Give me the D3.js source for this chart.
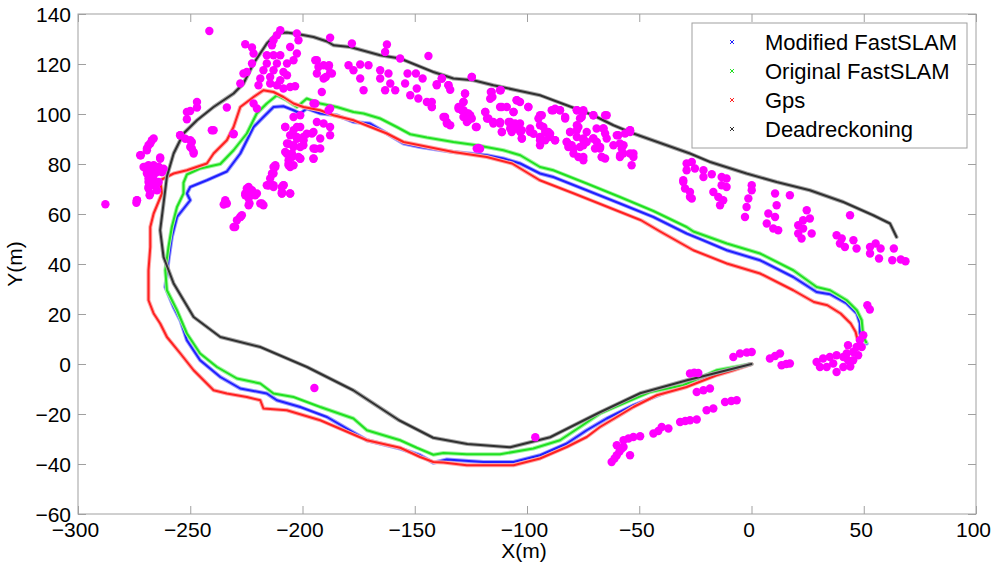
<!DOCTYPE html>
<html>
<head>
<meta charset="utf-8">
<script src="https://cdn.jsdelivr.net/npm/d3@7"></script>
<style>
  html, body { margin: 0; padding: 0; background: #fff; }
  svg { display: block; font-family: "Liberation Sans", Arial, sans-serif; }
</style>
</head>
<body>
<svg id="chart" width="1000" height="576"></svg>
<script>
// ---------- DATA (x in m, y in m) ----------
const xTicks = [-300, -250, -200, -150, -100, -50, 0, 50, 100];
const yTicks = [-60, -40, -20, 0, 20, 40, 60, 80, 100, 120, 140];
const legendLabels = ["Modified FastSLAM", "Original FastSLAM", "Gps", "Deadreckoning"];
const seriesColors = ["#2020ff", "#20e020", "#ff2020", "#303030"];

const modifiedFastSLAM = [
  [0,0],[-8.1,-1.8],[-22.9,-6.5],[-37.8,-11.2],[-52.6,-16.5],[-64.5,-21.8],[-73.4,-26.5],[-82.3,-31.8],
  [-94.2,-36.5],[-106,-39.2],[-119.4,-39.2],[-135.7,-38.2],[-141.7,-39.5],[-147.6,-36.5],[-156.5,-33.8],
  [-171.3,-30.5],[-189.1,-21.2],[-201,-17.2],[-211.4,-14.5],[-215.9,-11.8],[-227.7,-9.8],[-236.6,-5.2],
  [-245.6,1.5],[-251.5,9.5],[-254.4,17.5],[-257.4,22.8],[-261.1,30.8],[-259.7,41.5],[-258.2,50.8],
  [-255.9,58.8],[-250,65.5],[-251.5,68.2],[-250,70.8],[-242.6,73.5],[-233.7,77],[-227.7,84.2],
  [-221.8,94.8],[-217.4,98.8],[-212.9,102.8],[-208.5,103.1],[-204,101.5],[-201,100.2],[-198.1,102.2],
  [-192.1,100.2],[-184.7,99.5],[-177.3,96.8],[-169.9,96.2],[-162.4,92.2],[-155,88.2],[-147.6,86.8],
  [-132.8,84.8],[-117.9,83.5],[-110.5,82.2],[-103,80.2],[-94.2,76.2],[-88.3,74.8],[-73.4,69.5],
  [-58.6,64.2],[-43.7,58.8],[-28.9,52.2],[-22.9,50],[-11,45.5],[3.8,41.5],[18.6,34.8],[29,28.8],
  [35,27.9],[42.4,24.2],[46.9,20.2],[48.3,16.2],[48.3,12.2],[51.3,8.2]
];

const originalFastSLAM = [
  [0,0],[-15.5,-2.5],[-30.4,-8.5],[-45.2,-11.2],[-55.6,-15.2],[-67.5,-19.8],[-76.4,-25.2],[-85.3,-30.5],
  [-97.2,-33.8],[-112,-36.1],[-126.8,-36.1],[-137.2,-35.6],[-141.7,-36.3],[-149.1,-33.5],[-156.5,-30.5],
  [-171.3,-26.5],[-177.3,-21.8],[-192.1,-17.2],[-204,-13.2],[-212.9,-11.8],[-218.8,-7.8],[-229.2,-5.8],
  [-238.1,-1.2],[-245.6,4.2],[-251.5,12.2],[-255.9,21.5],[-260.4,29.5],[-261.1,37.5],[-259.7,46.8],
  [-258.2,54.8],[-255.9,62.8],[-253,68.2],[-253,72.5],[-251.5,75.8],[-245.6,78.2],[-236.6,80],
  [-230.7,85.5],[-224.8,92.2],[-220.4,100.2],[-215.9,104.2],[-211.4,107.5],[-207,105.5],[-202.5,102.8],
  [-198.1,106.2],[-192.1,104.2],[-184.7,102.8],[-177.3,100.8],[-172.8,100.2],[-165.4,98.2],[-158,94.8],
  [-152,91.9],[-144.6,90.6],[-132.8,88.8],[-122.4,87.5],[-110.5,85.5],[-103,83.5],[-94.2,78.8],
  [-88.3,77.5],[-73.4,72.2],[-58.6,66.8],[-43.7,61.2],[-28.9,54.8],[-25.9,53],[-11,48.2],[3.8,44.2],
  [18.6,37.5],[29,30.8],[35,29.5],[42.4,25.5],[46.9,21.5],[49.1,17.5],[49.8,10.8],[51.1,8.7]
];

const gps = [
  [0,0],[-8.1,-2.5],[-15.5,-4.5],[-28.9,-9.2],[-42.2,-12.5],[-52.6,-17.2],[-60,-21.2],[-67.5,-25.2],
  [-73.4,-29.2],[-82.3,-33.2],[-94.2,-37.8],[-106,-40.5],[-126.8,-40.5],[-137.2,-39.4],[-141.7,-39.2],
  [-147.6,-37.2],[-156.5,-33.5],[-171.3,-30.5],[-192.1,-22.5],[-207,-18.5],[-217.4,-17.8],[-218.8,-14.5],
  [-224.8,-13.2],[-233.7,-11.8],[-239.6,-10.5],[-248.5,-2.5],[-254.4,4.2],[-260.4,10.8],[-263.4,16.2],
  [-266.3,20.2],[-268.6,25.5],[-268.6,37.5],[-267.8,46.8],[-267.8,54.8],[-266.3,60.2],[-262.6,68.2],
  [-263.4,73.5],[-257.4,76.2],[-251.5,77.5],[-242.6,80.2],[-239.6,84.2],[-233.7,89.5],[-230.7,94.8],
  [-227.7,102.8],[-221.8,106.8],[-217.4,109.5],[-212.9,108.8],[-208.5,106.8],[-204,104.2],[-199.6,102.8],
  [-192.1,101.5],[-186.2,99.5],[-177.3,97.5],[-162.4,92.2],[-155,88.8],[-132.8,84.8],[-117.9,82.8],
  [-106.6,80.2],[-94.3,73.5],[-79.1,68.2],[-64,62.8],[-49.2,57.5],[-40.7,53],[-25.9,45.5],[-11,40.2],
  [3.8,36.2],[18.6,29.5],[27.8,24.8],[33.8,23.5],[39.7,20.2],[44.2,16.2],[46.4,12.8],[47.1,10.2]
];

const deadReckoning = [
  [0,0],[-28.7,-6.5],[-49.6,-11.7],[-67.5,-19.3],[-76.4,-23.3],[-89.7,-29.3],[-107.5,-33.3],[-126.6,-32],
  [-141.8,-29.5],[-157,-22.5],[-177.4,-10.5],[-198,-1.2],[-218.8,6.8],[-236.6,10.8],[-248.5,18.8],
  [-257.4,32.2],[-261.9,42.8],[-263.4,53.5],[-261.9,64.2],[-260.4,75],[-257.4,84.2],[-253,92.2],
  [-247,97.5],[-239.6,102.8],[-230.7,108.2],[-226.3,112.2],[-221.8,120.2],[-215.9,128.2],[-211.4,132.2],
  [-207,132.6],[-201,131.8],[-195.1,130.8],[-189,129],[-186.2,127.5],[-178.8,126.8],[-165.4,123.5],
  [-156.5,122.2],[-141.7,116.8],[-132.8,114.2],[-123.9,113.5],[-115,111.5],[-104.6,109.5],[-94.2,107.5],
  [-82.3,103.5],[-70.5,99.5],[-61.5,95.5],[-52.6,92.2],[-37.8,87.5],[-27.4,84.2],[-18.4,80.8],
  [-2.2,76.2],[11.2,72.8],[26,69.5],[40.9,64.8],[54.2,59.5],[61.7,56.2],[64.6,50.8]
];

const landmarks = [
  [-241.5,133.2],[-225.5,127.9],[-222.5,126.6],[-221.8,124.2],[-222.5,120.2],[-224.8,116.8],[-226.3,116.2],[-227.7,112.2],
  [-209.9,133.5],[-211.4,131.5],[-212.9,129.5],[-213.6,127.5],[-202.5,132.2],[-201.8,129.5],[-205.5,126.8],[-202.5,124.2],
  [-204,121.5],[-215.9,123.5],[-212.9,123.5],[-209.9,123.5],[-215.9,120.2],[-211.4,120.2],[-206.9,120.2],[-217.4,117.5],
  [-212.9,117.5],[-208.5,116.8],[-218.8,114.2],[-214.4,114.8],[-209.9,113.5],[-219.6,111.5],[-214.4,112.2],[-211.4,111.5],
  [-208.5,110.2],[-205.5,110.8],[-203.3,111.1],[-206.9,115.5],
  [-187.7,130.5],[-193.6,121.5],[-190.6,119.5],[-188.2,119.5],[-193.6,116.2],[-189.6,114.8],[-187.7,116.4],[-191.4,108.8],
  [-247,104.8],[-251.5,100.8],[-250,101.2],[-247,102.6],[-251.5,97.9],[-233.7,102.6],[-239.6,93.5],[-230.7,91.9],
  [-254.5,91.5],[-250,89.5],[-249.3,86.2],[-248.5,84.2],
  [-266.3,90.2],[-267.8,88.2],[-269.3,86.2],[-272,83.5],[-263.4,82.6],[-270.1,78.8],[-267.1,78.8],[-264.1,78.8],
  [-262.6,76.8],[-269.3,76.2],[-266.3,75.5],[-268.6,72.8],[-264.8,72.2],[-268.6,70.2],[-268.1,67.5],[-273.7,65.5],
  [-274,64.5],[-287.8,63.9],
  [-267.1,89.5],[-268.6,87.5],[-269.3,85.5],[-272.3,83.5],[-263.4,82.1],[-270.8,78.8],[-268.6,79.5],[-266.3,79.5],
  [-264.1,78.8],[-261.9,78.1],[-269.3,76.8],[-267.1,76.2],[-264.8,76.8],[-262.6,76.8],[-268.6,74.2],[-266.3,73.5],
  [-264.1,72.8],[-268.6,70.8],[-266.3,71.5],[-264.8,69.5],[-267.8,68.2],[-273.8,65.5],
  [-254.5,91.5],[-249.3,88.8],[-250,86.8],[-248.5,84.8],[-252.2,90.1],[-240.4,93.5],[-230.7,92.1],
  [-234.4,64.8],[-235.1,63.8],[-227,59.5],[-227.7,58.8],[-230,54.8],[-224,70.8],[-225.5,68.2],[-221.8,68.2],[-223.6,64.2],
  [-218.1,64.2],[-220.3,68.2],[-215.1,71.5],[-212.9,70.8],[-209.2,70.8],[-209.2,68.2],[-205.5,68.2],[-212.9,76.2],
  [-212.1,79.5],[-206.2,79.5],
  [-212.9,78.8],[-213.6,76.2],[-214.4,74.2],[-215.1,71.5],[-212.9,71.5],[-208.4,71.5],[-209.2,68.8],[-205.5,68.2],
  [-224.8,70.2],[-222.5,69.5],[-225.5,67.5],[-223.3,67.5],[-221.1,67.5],[-224,66.2],[-224,63.5],[-218.8,64.2],
  [-217.4,63.5],[-234.4,65.5],[-233.7,64.2],[-227.7,58.8],[-229.2,57.5],[-230.7,54.8],
  [-220.3,102.2],[-221.8,104.2],[-207.7,94.8],[-204,98.8],[-201,99.5],[-202.5,94.8],[-205.5,91.5],[-202.5,90.8],
  [-199.6,90.8],[-206.9,88.2],[-204,87.5],[-199.6,87.5],[-195.8,92.2],[-192.1,90.2],[-207.7,84.8],[-204.7,84.2],
  [-201,82.2],[-206.2,81.5],[-205.5,78.8],[-195.1,86.2],[-192.1,86.2],[-195.1,82.2],[-193.6,96.8],[-190.6,96.2],
  [-187.7,94.8],[-187.7,91.5],[-194.3,104.2],[-187.7,102.2],[-212.1,78.8],[-213.2,76.2],[-213.6,71.5],[-208.5,71.5],
  [-209.2,68.2],[-215.9,71.5],[-195.1,104.2],[-188.4,101.5],
  [-207.7,94.8],[-204,93.5],[-201,94.8],[-198.1,92.1],[-202.5,90.1],[-199.5,89.5],[-206.2,88.1],[-204,86.8],
  [-201,86.8],[-207,84.1],[-204.7,82.8],[-201.8,82.8],[-206.2,80.1],[-204,79.5],[-201,82.1],[-195.1,92.8],
  [-194.3,86.1],[-195.1,82.1],
  [-178,128.2],[-162.4,127.8],[-163.2,124.8],[-143.9,123.2],[-156.5,122.2],[-194.3,121.5],[-192.9,118.8],[-188.4,118.8],
  [-190.6,114.2],[-186.9,116.2],[-179.5,119.5],[-174.3,119.8],[-170.6,119.5],[-177.3,117.5],[-174.3,114.2],[-172.8,109.5],
  [-165.4,117.5],[-161.7,116.2],[-165.4,114.2],[-160.9,112.2],[-163.2,109.5],[-158.7,109.5],[-153.2,116.2],[-149.5,116.2],
  [-146.5,114.2],[-154.3,112.2],[-149.1,110.2],[-152,107.5],[-148.4,106.2],[-144.6,104.8],[-142.4,102.8],[-140.2,111.5],
  [-138,114.2],[-135,111.5],[-124.6,114.8],[-127.6,108.2],[-128.3,104.8],[-130.5,102.8],[-128.3,101.5],[-126.1,100.2],
  [-126.8,96.8],[-124.6,98.2],[-136.5,98.8],[-135.7,96.2],[-122.8,94.8],[-116.1,108.8],[-111.7,109.5],[-115.4,106.8],
  [-118.6,100.8],[-117.8,98.2],[-115,96.2],[-112,96.8],[-111.2,92.8],[-112,102.8],[-106,100.8],[-104.6,105.5],
  [-99.4,102.8],[-108.2,96.8],[-106,94.2],[-103,92.8],[-102.3,90.2],[-98.6,92.8],[-94.2,99.5],[-94.2,95.5],
  [-91.2,92.8],[-88.3,101.5],[-85.3,101.5],[-83,98.8],[-94.2,89.5],[-89.8,90.8],[-87.5,89.5],[-77.8,101.5],
  [-74.9,100.8],[-70.5,99.5],[-65.2,99.5],[-76.4,98.2],[-77.8,95.5],[-73.4,92.8],[-80.8,92.8],[-82.3,88.8],
  [-80.1,87.5],[-74.9,90.2],[-70.5,90.2],[-69,94.2],[-66,94.2],[-64.5,90.2],[-67.5,86.2],[-61.5,87.5],
  [-57,87.5],[-54.1,92.8],[-60,91.5],[-58.5,83.5],[-52.6,84.2],[-74.9,82.8],[-66.7,82.8],[-122.4,86.2],
  [-121.6,86.4],[-54.1,93.5],
  [-140.2,111.9],[-137.9,114.2],[-135,111.5],[-134.2,109.7],[-142.4,104.8],[-142.4,102.8],[-127.6,108.1],[-128.3,104.8],
  [-130.5,102.1],[-129,101.5],[-126.8,100.2],[-125.3,99.5],[-128.3,98.8],[-126.1,97.5],[-137.2,98.8],[-135.7,96.8],
  [-134.2,95.5],[-122.4,94.8],[-124.6,114.8],[-115.7,108.8],[-112,109.5],[-116.4,106.1],[-118.6,100.8],[-117.2,98.2],
  [-115,96.8],[-112,96.2],[-111.2,92.8],[-111.2,102.8],[-109,102.8],[-106,100.8],[-104.6,105.5],[-103.1,104.8],
  [-99.4,102.8],[-107.5,96.8],[-105.3,96.2],[-103.1,96.2],[-107.5,94.2],[-104.6,94.2],[-106.8,92.8],[-102.3,93.5],
  [-98.6,94.2],[-102.3,90.2],[-97.1,92.1],[-94.2,90.8],[-91.9,89.5],[-94.2,87.5],[-93.4,89.5],[-92.7,94.8],
  [-91.9,92.8],[-90.5,92.8],[-94.9,98.2],[-93.4,99.5],[-89,101.5],[-87.5,102.1],[-85.3,101.5],[-83,98.2],
  [-89.7,92.1],[-87.5,89.5],[-82.3,88.8],[-81.6,86.8],[-80.8,87.5],[-79.3,86.2],[-77.8,101.5],[-74.9,101.5],
  [-75.6,98.8],[-80.8,92.8],[-77.8,93.5],[-77.1,94.8],[-70.4,99.5],[-64.5,99.5],[-77.8,90.8],[-74.9,89.5],
  [-76.4,86.8],[-73.4,88.8],[-79.3,84.2],[-77.1,82.8],[-74.9,81.5],[-70.4,90.2],[-68.9,88.8],[-65.9,94.2],
  [-65.2,92.2],[-69.7,86.2],[-67.4,86.8],[-66.7,82.8],[-65.2,82.2],[-59.3,91.5],[-56.3,92.2],[-54.1,93.5],
  [-58.6,88.2],[-57.8,86.2],[-57.1,84.2],[-58.6,82.8],[-54.1,84.2],[-52.6,82.8],[-53.4,79.5],[-74.9,87.5],
  [-120.9,86.1],
  [-28.9,80.2],[-30.4,73.5],[-27.4,66.8],[-26.6,80.8],[-28.9,77.5],[-25.2,78.2],[-21.4,77.5],[-21.4,74.8],
  [-17.7,75.9],[-30.4,72.8],[-29.6,70.2],[-27.4,68.8],[-26.6,66.2],[-13.3,74.8],[-11.1,74.2],[-13.3,71.5],
  [-11.1,70.8],[-17,68.8],[-14.8,66.8],[-12.6,65.5],[-14,63.5],[0.1,71.5],[0.1,69.5],[-1.4,66.2],
  [-2.2,62.8],[-2.9,58.8],[10.5,68.2],[17.1,67.5],[11.2,63.5],[7.5,60.2],[10.5,58.8],[6.8,56.2],
  [9.7,54.2],[11.9,53.5],[24.6,61.5],[26,58.2],[23,57.5],[20.8,55.5],[23,54.2],[20.8,52.2],
  [22.3,50.2],[26.8,52.2],[43.9,59.5],[37.9,51.5],[40.2,50.2],[39.4,48.2],[41.6,46.8],[45.4,49.5],
  [46.8,46.2],[52.8,46.8],[55.3,48.2],[57.5,46.2],[52.8,44.2],[56.8,42.2],[63.4,46.2],[62.7,41.5],
  [66.5,41.8],[68.6,41.1],[51.6,23.5],[52.7,21.8],
  [49.8,11.5],[48.3,9.5],[46.8,6.8],[43,7.5],[45.3,4.8],[42.4,4.2],[40.9,2.8],[45.3,1.5],[37.9,3.5],
  [34.9,2.8],[31.9,2.2],[29,0.8],[30.5,-1.2],[33.5,-1.2],[36.4,0.2],[37.9,-3.2],[40.9,-1.2],[43,1.5],
  [49.1,6.8],[47.5,3.5],[44,-1],
  [-8.1,2.8],[-5.1,4.2],[-2.1,4.6],[0.1,4.8],[8.2,2.2],[12.7,4.2],[13.4,-0.5],[17.1,0.2],[10.5,3.2],[15.5,0],
  [-27.4,-3.8],[-23.7,-3.6],[-25.5,-3.5],[-24.4,-11.2],[-21.4,-10.5],[-18.5,-9.8],[-20,-18.5],[-17,-17.8],
  [-11.8,-15.2],[-6.6,-14.5],[-9,-14.8],[-31.8,-23.2],[-27.4,-22.5],[-24.4,-22.2],[-29.5,-22.8],
  [-43.7,-27.8],[-40,-25.2],[-37,-25.8],[-41.5,-26.8],[-57,-30.5],[-52.6,-29.2],[-49.6,-28.9],[-54.8,-29.8],
  [-60,-32.5],[-57.8,-33.8],[-54.1,-36.5],[-60,-36.5],[-62.3,-39.2],[-57,-33.2],[-58.8,-35],[-61,-37.8],
  [-194.7,-9.6],[-96.3,-29.3]
];

// ---------- LAYOUT ----------
const svg = d3.select("#chart");
const plot = { left: 78, right: 976, top: 14, bottom: 514 };
const x = d3.scaleLinear().domain([-300, 100]).range([plot.left, plot.right]);
const y = d3.scaleLinear().domain([-60, 140]).range([plot.bottom, plot.top]);
const axisColor = "#a0a0a0";
const tickLen = 8;
const fontSize = 21;

svg.append("rect").attr("width", 1000).attr("height", 576).attr("fill", "#fff");

// Axes box
svg.append("rect")
  .attr("x", plot.left).attr("y", plot.top)
  .attr("width", plot.right - plot.left).attr("height", plot.bottom - plot.top)
  .attr("fill", "#fff").attr("stroke", axisColor).attr("stroke-width", 1);

// Ticks (inside, on all four sides) via d3 axes
const xb = svg.append("g").attr("transform", `translate(0,${plot.bottom})`)
  .call(d3.axisBottom(x).tickValues(xTicks).tickSize(-tickLen).tickPadding(8).tickFormat(d3.format("d")));
const xt = svg.append("g").attr("transform", `translate(0,${plot.top})`)
  .call(d3.axisTop(x).tickValues(xTicks).tickSize(-tickLen).tickFormat(""));
const yl = svg.append("g").attr("transform", `translate(${plot.left},0)`)
  .call(d3.axisLeft(y).tickValues(yTicks).tickSize(-tickLen).tickPadding(7).tickFormat(d3.format("d")));
const yr = svg.append("g").attr("transform", `translate(${plot.right},0)`)
  .call(d3.axisRight(y).tickValues(yTicks).tickSize(-tickLen).tickFormat(""));

[xb, xt, yl, yr].forEach(g => {
  g.select(".domain").remove();
  g.selectAll(".tick line").attr("stroke", axisColor);
  g.selectAll("text").attr("fill", "#000").attr("font-size", fontSize)
    .attr("font-family", "'Liberation Sans', Arial, sans-serif");
});
xb.selectAll("text").attr("dy", "0.71em").attr("dx", "-3");
yl.selectAll("text").attr("dy", "0.36em");

// Axis titles
svg.append("text").attr("x", (plot.left + plot.right) / 2 - 3).attr("y", 558)
  .attr("text-anchor", "middle").attr("font-size", fontSize).attr("fill", "#000").text("X(m)");
svg.append("text").attr("transform", `translate(22,${(plot.top + plot.bottom) / 2}) rotate(-90)`)
  .attr("text-anchor", "middle").attr("font-size", fontSize).attr("fill", "#000").text("Y(m)");

// ---------- SERIES ----------
const line = d3.line().x(d => x(d[0])).y(d => y(d[1]));
const series = [modifiedFastSLAM, originalFastSLAM, gps, deadReckoning];
const under = ["#9c9cff", "#a0f5a0", "#ffa8a8", "#a8a8a8"];
const g = svg.append("g");
series.forEach((data, i) => {
  g.append("path").datum(data).attr("d", line)
    .attr("fill", "none").attr("stroke", under[i]).attr("stroke-width", 4)
    .attr("stroke-linejoin", "round").attr("stroke-linecap", "round");
  g.append("path").datum(data).attr("d", line)
    .attr("fill", "none").attr("stroke", seriesColors[i]).attr("stroke-width", 2)
    .attr("stroke-linejoin", "round").attr("stroke-linecap", "round");
});

// Landmarks
svg.append("g").selectAll("circle").data(landmarks).join("circle")
  .attr("cx", d => x(d[0])).attr("cy", d => y(d[1])).attr("r", 4.2)
  .attr("fill", "#ff00ff");

// ---------- LEGEND ----------
const lg = svg.append("g");
lg.append("rect").attr("x", 692).attr("y", 23).attr("width", 275).attr("height", 125)
  .attr("fill", "#fff").attr("stroke", axisColor).attr("stroke-width", 1);
legendLabels.forEach((lab, i) => {
  const cy = 42 + i * 29;
  const cx = 732;
  lg.append("path").attr("d", `M${cx-2},${cy-2}L${cx+2},${cy+2}M${cx-2},${cy+2}L${cx+2},${cy-2}`)
    .attr("stroke", seriesColors[i]).attr("stroke-width", 1);
  lg.append("text").attr("x", 765).attr("y", cy).attr("dy", "0.36em")
    .attr("font-size", 22).attr("fill", "#000").text(lab);
});
</script>
</body>
</html>
